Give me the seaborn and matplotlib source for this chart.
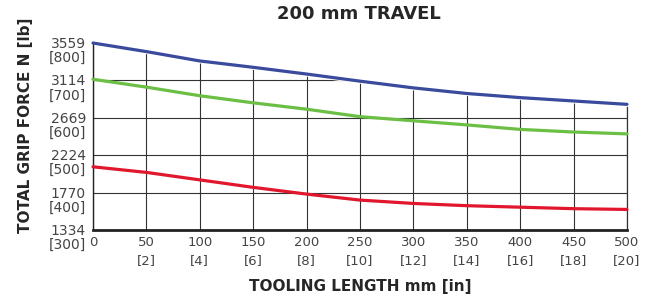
import numpy as np
import pandas as pd
import matplotlib
matplotlib.use("Agg")
import matplotlib.pyplot as plt
import matplotlib.transforms as mtransforms
import seaborn as sns

# ==========================================
# Data (grip force in lb)
# ==========================================
tooling_mm = [0, 50, 100, 150, 200, 250, 300, 350, 400, 450, 500]
force_blue = [800, 777, 752, 735, 717, 698, 680, 665, 654, 645, 636]
force_green = [703, 682, 659, 640, 623, 603, 592, 581, 569, 562, 557]
force_red = [469, 454, 434, 414, 396, 380, 371, 365, 361, 357, 355]

y_ticks_lb = [300, 400, 500, 600, 700, 800]
y_ticks_n = ["1334", "1770", "2224", "2669", "3114", "3559"]
x_ticks_in = ["", "[2]", "[4]", "[6]", "[8]", "[10]", "[12]", "[14]", "[16]", "[18]", "[20]"]

series_names = ["blue", "green", "red"]
series_colors = {"blue": "#3a4a9c", "green": "#6cbf45", "red": "#e1172d"}

df = pd.DataFrame({
	"tooling": tooling_mm * 3,
	"force": force_blue + force_green + force_red,
	"series": np.repeat(series_names, len(tooling_mm)),
})

# ==========================================
# Plot
# ==========================================
sns.set_style("white")
plt.rcParams["font.family"] = ["DejaVu Sans"]

fig = plt.figure(figsize=(6.54, 3.02), dpi=100)
ax = fig.add_axes([0.1422, 0.2384, 0.8165, 0.6192])

sns.lineplot(data=df, x="tooling", y="force", hue="series", palette=series_colors,
			 linewidth=2.3, legend=False, ax=ax, zorder=3)
for line in ax.get_lines():
	line.set_clip_on(False)

# hide grid above the top curve
ax.fill_between(tooling_mm, force_blue, 825, facecolor="white", edgecolor="white",
				linewidth=3, zorder=2, clip_on=False)

ax.set_xlim(0, 500)
ax.set_ylim(300, 800)
ax.grid(True, color="#333333", linewidth=0.8, zorder=1)
ax.set_axisbelow(True)
ax.tick_params(axis="y", length=3, width=0.8, color="#333333", pad=2)
ax.tick_params(axis="x", length=0, pad=4)

ax.set_xticks(tooling_mm)
ax.set_xticklabels([f"{m}\n{i}" if i else f"{m}" for m, i in zip(tooling_mm, x_ticks_in)],
				   fontsize=9.5, color="#444444", linespacing=1.5, va="top")
ax.set_yticks(y_ticks_lb)
ax.set_yticklabels([f"{n}\n[{lb}]" for n, lb in zip(y_ticks_n, y_ticks_lb)],
				   fontsize=10, color="#444444", linespacing=1.0, va="center")
# first line (N) sits on the tick, [lb] below it
offset = mtransforms.ScaledTranslation(0, -5.8 / 72, fig.dpi_scale_trans)
for lab in ax.get_yticklabels():
	lab.set_transform(lab.get_transform() + offset)

ax.spines["top"].set_visible(False)
# right border: drawn under the white fill so it stops at the blue curve
ax.spines["right"].set_color("#333333")
ax.spines["right"].set_linewidth(0.9)
ax.spines["right"].set_zorder(1.5)
ax.spines["left"].set_color("#222222")
ax.spines["left"].set_linewidth(1.0)
ax.spines["bottom"].set_color("#222222")
ax.spines["bottom"].set_linewidth(2.0)

ax.set_xlabel("TOOLING LENGTH mm [in]", fontsize=11, fontweight="bold", labelpad=9)
ax.set_ylabel("TOTAL GRIP FORCE N [lb]", fontsize=11, fontweight="bold")
ax.yaxis.set_label_coords(-0.112, 0.56)
fig.text(0.549, 0.955, "200 mm TRAVEL", ha="center", va="center",
		 fontsize=13, fontweight="bold")

fig.savefig("out.png", dpi=100)
